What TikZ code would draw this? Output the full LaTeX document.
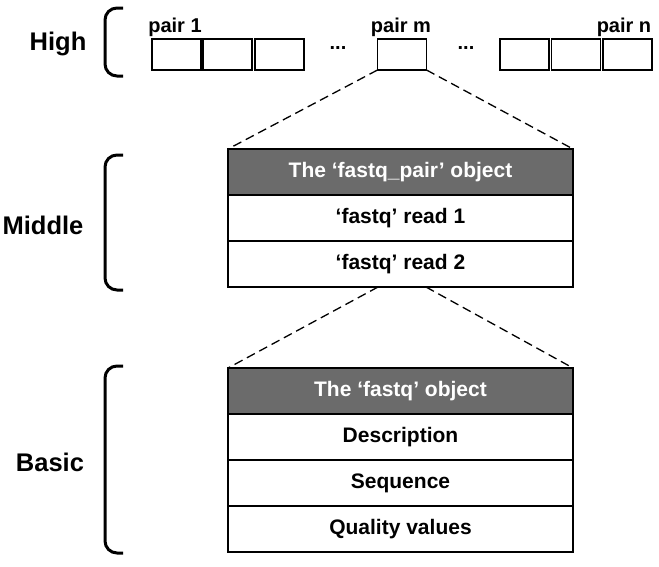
\documentclass[tikz,border=0pt]{standalone}
\usepackage{fontspec}
\setmainfont{Liberation Sans}
\usepackage{tikz}

\begin{document}
\begin{tikzpicture}[x=1pt,y=-1pt,
	lvl/.style={font=\fontsize{25.5}{30}\selectfont\bfseries},
	pairbox/.style={draw, line width=1.6pt, minimum width=49pt, minimum height=31pt, inner sep=0pt, outer sep=0pt},
	pairlbl/.style={font=\fontsize{20}{24}\selectfont\bfseries, inner sep=0pt},
	cell/.style={draw, line width=1.6pt, minimum width=345pt, minimum height=46pt, inner sep=0pt, outer sep=0pt, font=\fontsize{21}{25}\selectfont\bfseries},
	head/.style={cell, fill=black!58, text=white},
	brk/.style={line width=3pt, rounded corners=12pt},
	zoomline/.style={line width=1.3pt, dash pattern=on 9pt off 5pt}]
	\useasboundingbox (0,0) rectangle (659,566);
	% level names
	\node[lvl] (high) at (58, 44) {High};
	\node[lvl] (middle) at (43, 225) {Middle};
	\node[lvl] (basic) at (50, 462) {Basic};
	\draw[brk] (123, 8) -- (105, 8) -- (105, 76) -- (123, 76);
	\draw[brk] (123, 155) -- (105, 155) -- (105, 290) -- (123, 290);
	\draw[brk] (123, 366) -- (105, 366) -- (105, 553) -- (123, 553);
	% high level: the pairs
	\node[pairbox] (p1) at (176.5, 54.5) {};
	\node[pairbox] (p2) at (227.5, 54.5) {};
	\node[pairbox] (p3) at (279.5, 54.5) {};
	\node[pairbox] (pm) at (402, 54.5) {};
	\node[pairbox] (p4) at (524.5, 54.5) {};
	\node[pairbox] (p5) at (576, 54.5) {};
	\node[pairbox] (pn) at (627.5, 54.5) {};
	\node[pairlbl] (l1) at (175, 27) {pair 1};
	\node[pairlbl] (lm) at (401, 27) {pair m};
	\node[pairlbl] (ln) at (624, 27) {pair n};
	\node[pairlbl] (dots1) at (338, 48) {...};
	\node[pairlbl] (dots2) at (466, 48) {...};
	% middle level
	\node[head] (fp) at (400.5, 172) {The ‘fastq\_pair’ object};
	\node[cell] (r1) at (400.5, 218) {‘fastq’ read 1};
	\node[cell] (r2) at (400.5, 264) {‘fastq’ read 2};
	% basic level
	\node[head] (fq) at (400.5, 391) {The ‘fastq’ object};
	\node[cell] (desc) at (400.5, 437) {Description};
	\node[cell] (seq) at (400.5, 483) {Sequence};
	\node[cell] (qual) at (400.5, 529) {Quality values};
	% zoom lines
	\coordinate (r2l) at (378, 287);
	\coordinate (r2r) at (426, 287);
	\draw[zoomline] (pm.south west) -- (fp.north west);
	\draw[zoomline] (pm.south east) -- (fp.north east);
	\draw[zoomline] (r2l) -- (fq.north west);
	\draw[zoomline] (r2r) -- (fq.north east);
\end{tikzpicture}
\end{document}
